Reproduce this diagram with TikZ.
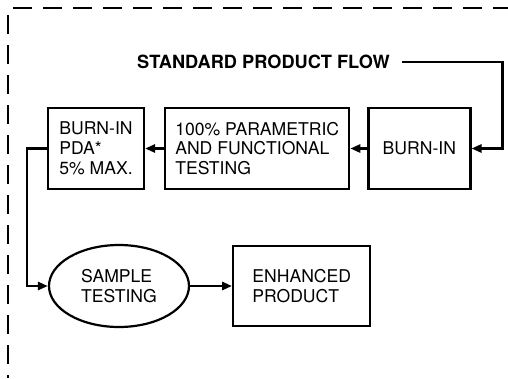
\documentclass[tikz,border=0pt]{standalone}
\usepackage{fontspec}
\setmainfont{TeX Gyre Heros}
\usetikzlibrary{arrows.meta,positioning,shapes.geometric}
\tikzset{
    flowbox/.style={draw, line width=2.2pt, align=left, font=\fontsize{17.6}{19.8}\selectfont, inner sep=0pt, minimum height=81pt},
    flowoval/.style={draw, ellipse, line width=2.2pt, align=left, font=\fontsize{17.6}{19.8}\selectfont, inner sep=0pt, minimum width=140pt, minimum height=82pt},
    flowarrow/.style={-{Triangle[length=10pt,width=8pt]}, line width=2.8pt},
    frameline/.style={line width=2.2pt, dash pattern=on 19pt off 11pt},
    flowtitle/.style={font=\fontsize{18.2}{20}\selectfont\bfseries}
}
\begin{document}
\begin{tikzpicture}[x=1pt, y=-1pt]
    \useasboundingbox (0,0) rectangle (508,378);
    \draw[frameline] (13,8) -- (508,8);
    \draw[frameline] (8,15) -- (8,378);
    \node[flowtitle] (title) at (263.5,62) {STANDARD PRODUCT FLOW};
    \node[flowbox, minimum width=96pt] (pda) at (96,148.5) {BURN-IN\\PDA*\\5\% MAX.};
    \node[flowbox, minimum width=184pt, right=19pt of pda] (param) {100\% PARAMETRIC\\AND FUNCTIONAL\\TESTING};
    \node[flowbox, minimum width=102pt, right=17pt of param] (burnin) {BURN-IN};
    \node[flowoval] (sample) at (119,286) {SAMPLE\\TESTING};
    \node[flowbox, minimum width=137pt, minimum height=80pt, right=42pt of sample] (enhanced) {ENHANCED\\PRODUCT};
    \draw[flowarrow] ([xshift=9pt]title.east) -| ([xshift=31pt]burnin.east) -- (burnin.east);
    \draw[flowarrow] (burnin) -- (param);
    \draw[flowarrow] (param) -- (pda);
    \draw[flowarrow] (pda.west) -- ++(-20pt,0) |- (sample.west);
    \draw[flowarrow] (sample) -- (enhanced);
\end{tikzpicture}
\end{document}
